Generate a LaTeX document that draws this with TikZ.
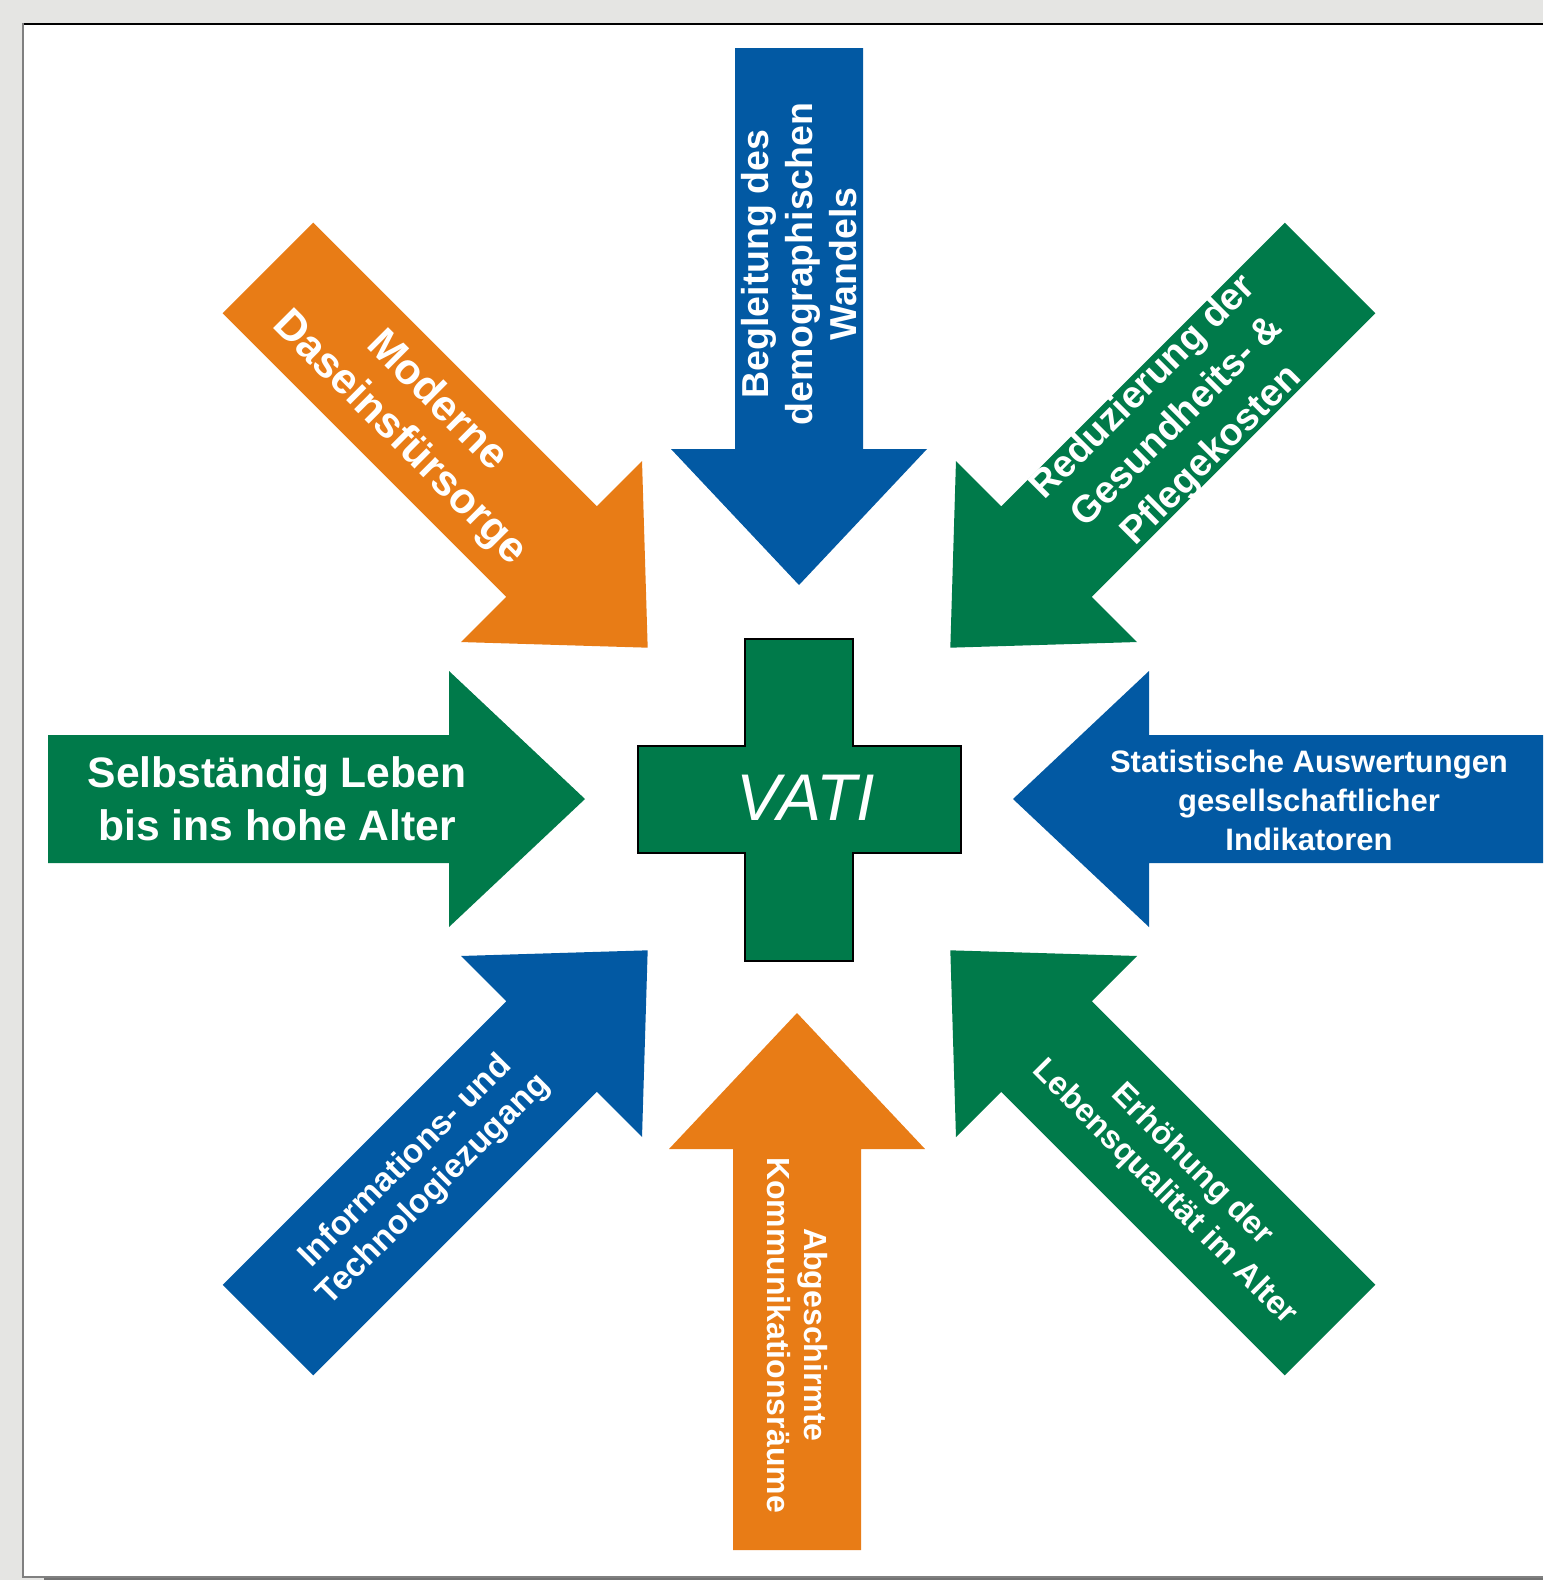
\documentclass[tikz,border=0pt]{standalone}
\usepackage{fontspec}
\setmainfont{Liberation Sans}
\definecolor{vorange}{RGB}{232,124,22}
\definecolor{vgreen}{RGB}{0,122,74}
\definecolor{vblue}{RGB}{2,89,163}
\definecolor{pagegray}{RGB}{229,229,227}
\begin{document}
\begin{tikzpicture}[x=0.5pt,y=-0.5pt,
  lbl/.style={text=white, align=center, inner sep=0pt},
  bigarrow/.style={shift={(#1)}, rotate=\ang},
]
\useasboundingbox (0,0) rectangle (1543,1580);
\fill[pagegray] (0,0) rectangle (1543,1580);
\fill[black!55] (44,1576) rectangle (1543,1580);
\fill[white] (22,23) rectangle (1543,1577);
\draw[line width=1pt, black] (22,23.5) -- (1543,23.5);
\draw[line width=1pt, black!50] (22.5,23) -- (22.5,1577) -- (1543,1577);
\begin{scope}
\clip (23,24) rectangle (1543,1576);
% arrows (right, top-right, top, top-left, left, bottom-left, bottom, bottom-right)
\foreach \ang/\col/\cx in {0/vblue/799, 45/vgreen/799, 90/vblue/799, 135/vorange/799, 180/vgreen/799, 225/vblue/799, 270/vorange/797, 315/vgreen/799}{
  \fill[\col, bigarrow={\cx,799}] (214,0) -- (350,128) -- (350,64) -- (751,64) -- (751,-64) -- (350,-64) -- (350,-128) -- cycle;
}
\end{scope}
% cross
\draw[fill=vgreen, line width=1pt] (745,639) -- (853,639) -- (853,746) -- (961,746) -- (961,853) -- (853,853) -- (853,961) -- (745,961) -- (745,853) -- (638,853) -- (638,746) -- (745,746) -- cycle;
\node[text=white, inner sep=0pt, font=\itshape\fontsize{33}{38}\selectfont] (vati) at (806,798) {VATI};
% labels
\node[lbl, font=\bfseries\fontsize{21.3}{26.5}\selectfont] (selb) at (277,799) {Selbständig Leben\\bis ins hohe Alter};
\node[lbl, font=\bfseries\fontsize{15.5}{19.5}\selectfont] (stat) at (1309,800) {Statistische Auswertungen\\gesellschaftlicher\\Indikatoren};
\node[lbl, rotate=90, font=\bfseries\fontsize{18.75}{22}\selectfont] (begl) at (799,264) {Begleitung des\\demographischen\\Wandels};
\node[lbl, rotate=-90, font=\bfseries\fontsize{16}{18.5}\selectfont] (abge) at (797,1335) {Abgeschirmte\\Kommunikationsräume};
\node[lbl, rotate=-45, font=\bfseries\fontsize{21.5}{26}\selectfont] (mode) at (418,420) {Moderne\\Daseinsfürsorge};
\node[lbl, rotate=45, font=\bfseries\fontsize{19}{24}\selectfont] (redu) at (1178,422) {Reduzierung der\\Gesundheits- \&\\Pflegekosten};
\node[lbl, rotate=45, font=\bfseries\fontsize{16.75}{20}\selectfont] (info) at (420,1176) {Informations- und\\Technologiezugang};
\node[lbl, rotate=-45, font=\bfseries\fontsize{16.25}{19.5}\selectfont] (erho) at (1178,1179) {Erhöhung der\\Lebensqualität im Alter};
\end{tikzpicture}
\end{document}
